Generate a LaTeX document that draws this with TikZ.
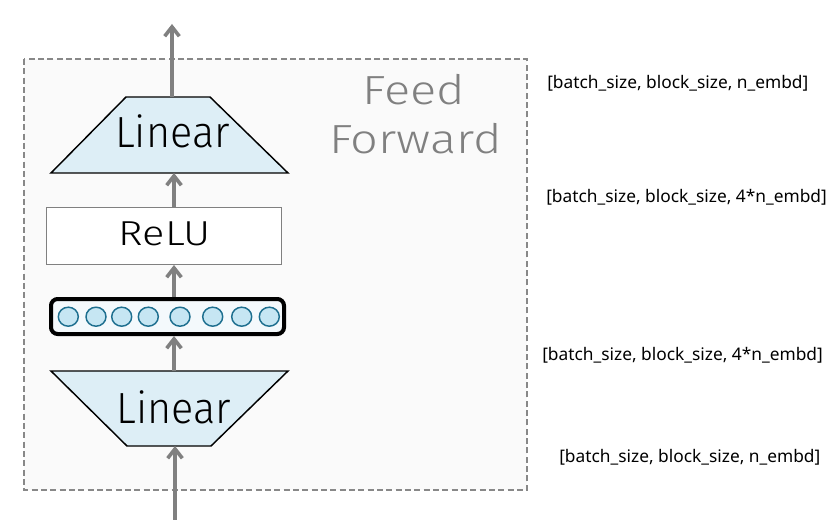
\documentclass[tikz,border=0pt]{standalone}
\usepackage{fontspec}
\setmainfont{Fira Sans}[UprightFont={* Light}]
\newfontfamily\linfont{Fira Sans}[UprightFont={* Light}, FakeStretch=0.95]
\newfontfamily\widefont{Fira Sans}[UprightFont={* Light}, FakeStretch=1.2]
\newfontfamily\labfont{Noto Sans}
\usetikzlibrary{arrows.meta,shapes.geometric}
\definecolor{arrgray}{HTML}{808080}
\definecolor{linfill}{HTML}{DDEEF6}
\definecolor{boxfill}{HTML}{F4F9FC}
\definecolor{neufill}{HTML}{C6E6F3}
\definecolor{neudraw}{HTML}{1E6F8F}
\definecolor{bgfill}{HTML}{FAFAFA}
\definecolor{dashgray}{HTML}{888888}
\tikzset{
  flow/.style={draw=arrgray, line width=3.6pt*0.75, -{Straight Barb[length=7pt,width=11pt]}},
  linshape/.style={draw=black, fill=linfill, line width=1.1pt},
  bigtext/.style={font=\linfont\fontsize{32.7pt}{38pt}\selectfont, text=black, inner sep=0pt, anchor=base},
  relutext/.style={font=\widefont\fontsize{26pt}{30pt}\selectfont, text=black, inner sep=0pt, anchor=base},
  fftext/.style={font=\widefont\fontsize{30.5pt}{36.75pt}\selectfont, text=arrgray, inner sep=0pt, anchor=base},
  dimlabel/.style={font=\labfont\fontsize{13pt}{15pt}\selectfont, text=black, inner sep=0pt, anchor=west},
  neuron/.style={draw=neudraw, fill=neufill, line width=1.1pt, ellipse, minimum width=20*0.75pt, minimum height=19*0.75pt, inner sep=0pt},
}
\begin{document}
\begin{tikzpicture}[x=0.75pt,y=-0.75pt]
\useasboundingbox (0,0) rectangle (838,520);
% container
\draw[dashgray, fill=bgfill, line width=1pt, dash pattern=on 4.5pt off 2.5pt] (24,59) rectangle (527,490);
% top Linear
\draw[linshape] (126,97) -- (210,97) -- (288,173) -- (51,173) -- cycle;
\node[bigtext] (lin2) at (172.5,148) {Linear};
\coordinate (lin2top) at (172,97);
\coordinate (lin2bot) at (174,173);
% ReLU
\draw[draw=arrgray, fill=white, line width=1.1pt] (46.5,207.5) rectangle (281.5,264.5);
\node[relutext] (relu) at (165,245) {ReLU};
\coordinate (relutop) at (174,207);
\coordinate (relubot) at (174,265);
% neuron layer
\draw[draw=black, fill=boxfill, line width=3pt, rounded corners=5pt] (51,299) rectangle (284,334);
\foreach \i/\x in {1/68.3,2/96,3/121.7,4/148.3,5/180,6/212.7,7/241.7,8/269.3}{
  \node[neuron] (n\i) at (\x,316.7) {};
}
\coordinate (laytop) at (174,297);
\coordinate (laybot) at (174,336);
% bottom Linear
\draw[linshape] (51,371) -- (288,371) -- (211,446) -- (127,446) -- cycle;
\node[bigtext] (lin1) at (174,423) {Linear};
\coordinate (lin1top) at (174,371);
\coordinate (lin1bot) at (175,446);
% in / out
\coordinate (in) at (175,520);
\coordinate (out) at (172,24);
% arrows
\draw[flow] (in) -- (lin1bot);
\draw[flow] (lin1top) -- (laybot);
\draw[flow] (laytop) -- (relubot);
\draw[flow] (relutop) -- (lin2bot);
\draw[flow] (lin2top) -- (out);
% title
\node[fftext] (feed) at (414,105) {Feed};
\node[fftext] (fwd) at (415.5,154) {Forward};
% dimension labels
\node[dimlabel] (d4) at (547,83) {[batch\_size, block\_size, n\_embd]};
\node[dimlabel] (d3) at (546,197) {[batch\_size, block\_size, 4*n\_embd]};
\node[dimlabel] (d2) at (542,355) {[batch\_size, block\_size, 4*n\_embd]};
\node[dimlabel] (d1) at (559,457) {[batch\_size, block\_size, n\_embd]};
\end{tikzpicture}
\end{document}
